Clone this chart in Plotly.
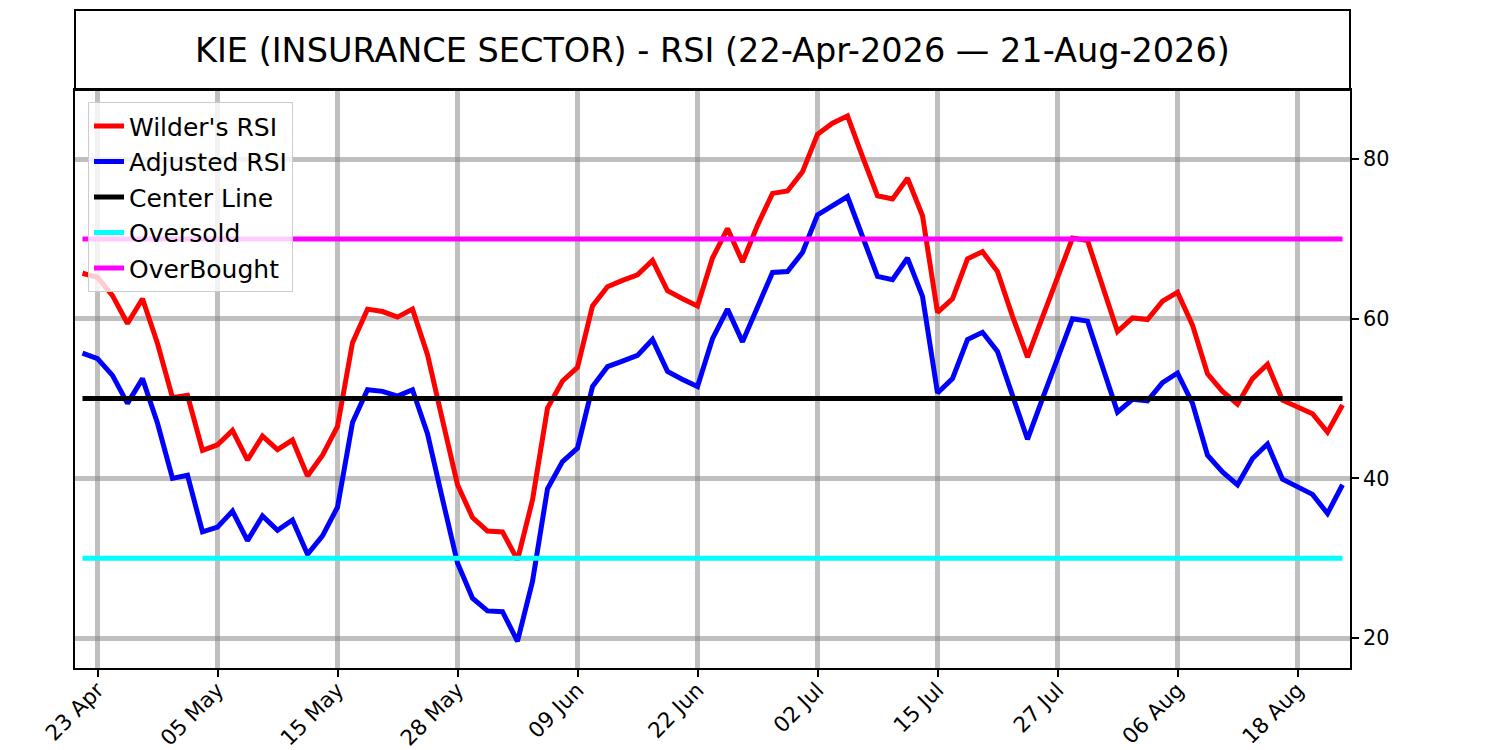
import pandas as pd
import plotly.graph_objects as go

# RSI values, one per trading day (22-Apr-2026 .. 21-Aug-2026)
wilder_rsi = [
    65.7, 65.2, 62.9, 59.4, 62.5, 56.9, 50.1, 50.4, 43.5, 44.2,
    46.0, 42.3, 45.3, 43.6, 44.8, 40.3, 42.9, 46.5, 57.0, 61.2,
    60.9, 60.2, 61.2, 55.5, 47.3, 39.2, 35.1, 33.4, 33.3, 29.8,
    37.3, 48.8, 52.2, 53.9, 61.6, 64.0, 64.8, 65.5, 67.3, 63.5,
    62.5, 61.6, 67.6, 71.3, 67.1, 71.7, 75.7, 76.0, 78.4, 83.1,
    84.5, 85.4, 80.3, 75.4, 75.0, 77.6, 72.9, 60.8, 62.5, 67.5,
    68.4, 65.9, 60.3, 55.2, 60.2, 65.2, 70.1, 69.8, 64.2, 58.4,
    60.1, 59.9, 62.2, 63.3, 59.2, 53.1, 50.9, 49.3, 52.5, 54.3,
    49.8, 49.0, 48.1, 45.8, 49.2,
]
adjusted_rsi = [
    55.7, 55.0, 52.9, 49.4, 52.5, 46.9, 40.0, 40.4, 33.3, 33.9,
    35.9, 32.2, 35.3, 33.5, 34.8, 30.5, 32.8, 36.4, 47.0, 51.1,
    50.9, 50.3, 51.1, 45.6, 37.4, 29.4, 25.0, 23.4, 23.3, 19.6,
    27.1, 38.7, 42.1, 43.8, 51.5, 54.0, 54.7, 55.4, 57.4, 53.4,
    52.4, 51.5, 57.5, 61.2, 57.1, 61.5, 65.8, 65.9, 68.3, 73.0,
    74.2, 75.3, 70.3, 65.3, 64.9, 67.6, 62.8, 50.7, 52.5, 57.4,
    58.3, 55.9, 50.4, 44.9, 50.0, 55.0, 60.0, 59.7, 54.2, 48.3,
    49.9, 49.7, 52.0, 53.2, 49.4, 42.9, 40.8, 39.2, 42.5, 44.3,
    39.9, 38.9, 38.0, 35.6, 39.2,
]
center_level = 50
oversold_level = 30
overbought_level = 70

market_holidays = ["2026-05-25", "2026-06-19", "2026-07-03"]
dates = pd.bdate_range("2026-04-22", "2026-08-21", freq="C", holidays=market_holidays)
x_days = [d.strftime("%Y-%m-%d") for d in dates]
tick_days = x_days[1::8]
tick_labels = [d.strftime("%d %b") for d in dates[1::8]]

n = len(x_days)
lw = 5
fig = go.Figure()
fig.add_trace(go.Scatter(x=x_days, y=wilder_rsi, mode="lines", name="Wilder's RSI",
                         line=dict(color="red", width=lw)))
fig.add_trace(go.Scatter(x=x_days, y=adjusted_rsi, mode="lines", name="Adjusted RSI",
                         line=dict(color="blue", width=lw)))
fig.add_trace(go.Scatter(x=x_days, y=[center_level] * n, mode="lines", name="Center Line",
                         line=dict(color="black", width=lw)))
fig.add_trace(go.Scatter(x=x_days, y=[oversold_level] * n, mode="lines", name="Oversold",
                         line=dict(color="cyan", width=lw)))
fig.add_trace(go.Scatter(x=x_days, y=[overbought_level] * n, mode="lines", name="OverBought",
                         line=dict(color="magenta", width=lw)))

plot_h = 750 - 90 - 82
box_top = 1 + 80 / plot_h

fig.update_layout(
    width=1500, height=750,
    margin=dict(l=75, r=150, t=90, b=82),
    paper_bgcolor="white", plot_bgcolor="white",
    font=dict(family="DejaVu Sans", color="black"),
    showlegend=True,
    legend=dict(x=0.0102, y=0.979, xanchor="left", yanchor="top",
                bgcolor="rgba(255,255,255,0.8)", bordercolor="#cccccc", borderwidth=1,
                font=dict(size=25), tracegroupgap=0, itemwidth=30),
    shapes=[dict(type="rect", xref="paper", yref="paper", x0=0, x1=1, y0=1, y1=box_top,
                 line=dict(color="black", width=2), fillcolor="rgba(0,0,0,0)")],
    annotations=[dict(text="KIE (INSURANCE SECTOR) - RSI (22-Apr-2026 — 21-Aug-2026)",
                      xref="paper", yref="paper", x=0.5, y=(1 + box_top) / 2,
                      xanchor="center", yanchor="middle", showarrow=False,
                      font=dict(size=33.5, color="black"))],
)
fig.update_xaxes(type="category", range=[-0.5, n - 0.5], automargin=False,
                 tickmode="array", tickvals=tick_days, ticktext=tick_labels,
                 tickangle=-45, tickfont=dict(size=21.5), ticklabelstandoff=-8,
                 ticks="outside", ticklen=7, tickwidth=1.7, tickcolor="black",
                 showline=True, mirror=True, linecolor="black", linewidth=1.7,
                 showgrid=True, gridcolor="rgba(128,128,128,0.5)", gridwidth=4.5,
                 zeroline=False)
fig.update_yaxes(side="right", range=[16.25, 88.65], automargin=False,
                 tickmode="array", tickvals=[20, 40, 60, 80], tickfont=dict(size=20.8),
                 ticks="outside", ticklen=7, tickwidth=1.7, tickcolor="black",
                 showline=True, mirror=True, linecolor="black", linewidth=1.7,
                 showgrid=True, gridcolor="rgba(128,128,128,0.5)", gridwidth=4.5,
                 zeroline=False)

fig.write_html("out.html", config={"displayModeBar": False},
               post_script="document.body.style.margin='0';")
